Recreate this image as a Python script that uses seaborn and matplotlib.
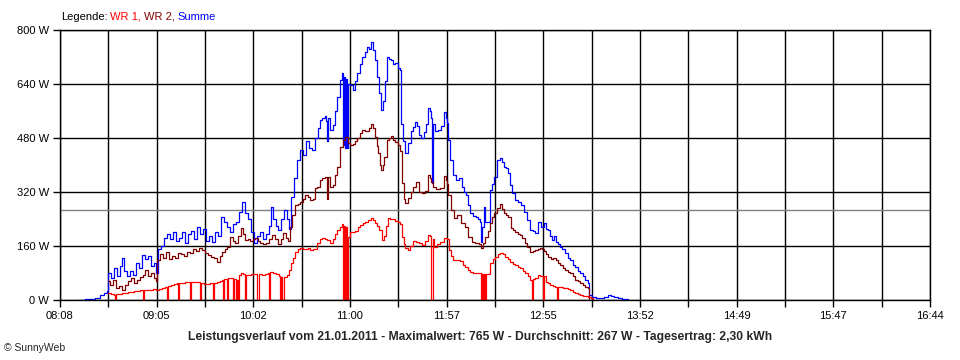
import matplotlib
matplotlib.use('Agg')
import numpy as np
import pandas as pd
import matplotlib.pyplot as plt
import seaborn as sns

# Tagesverlauf 21.01.2011, Zeit in Minuten nach 08:00, Leistung in W
t_summe = [18.7, 22.8, 25.8, 28.8, 31.7, 34.1, 35.9, 36.5, 38.2, 40.0, 41.8, 43.6, 44.8, 46.0, 47.7,
           49.5, 51.3, 53.1, 54.9, 56.6, 58.4, 60.2, 62.0, 63.7, 64.9, 66.1, 67.9, 69.7, 71.5, 73.2,
           75.0, 76.8, 78.6, 80.4, 82.1, 83.9, 85.7, 87.5, 89.2, 91.0, 92.8, 94.6, 96.4, 98.1, 99.9,
           101.7, 103.5, 105.3, 107.0, 108.8, 110.6, 112.4, 114.2, 115.9, 117.7, 119.5, 121.3, 123.1,
           124.8, 126.6, 128.4, 130.2, 131.9, 133.1, 134.3, 136.1, 137.3, 139.1, 140.9, 142.6, 143.8,
           145.0, 146.8, 148.6, 150.3, 152.1, 153.9, 155.7, 157.5, 159.2, 161.0, 162.2, 163.4, 165.2,
           165.8, 166.4, 166.9, 168.1, 169.9, 171.1, 172.3, 174.1, 175.3, 175.9, 176.4, 177.0, 177.6,
           178.2, 178.8, 180.0, 181.8, 183.0, 184.2, 185.9, 187.1, 188.9, 190.1, 191.3, 192.5, 193.6,
           194.8, 196.0, 197.2, 198.4, 199.6, 200.8, 201.9, 203.1, 204.3, 205.5, 206.7, 208.5, 209.7,
           210.2, 211.4, 212.6, 214.4, 216.2, 217.4, 218.5, 219.7, 220.9, 222.1, 223.9, 225.1, 226.3,
           227.5, 228.0, 228.6, 229.2, 230.4, 232.2, 234.0, 235.8, 236.9, 237.5, 238.1, 239.3, 241.1,
           242.9, 244.6, 246.4, 247.6, 248.8, 250.0, 251.2, 253.0, 254.7, 255.9, 257.1, 257.7, 258.3,
           259.5, 260.1, 261.3, 263.0, 264.2, 265.4, 267.2, 269.0, 270.1, 271.3, 272.5, 273.7, 274.9,
           276.1, 277.9, 279.6, 281.4, 283.2, 285.0, 286.8, 288.5, 289.7, 291.5, 293.3, 295.1, 296.3,
           297.4, 298.6, 299.8, 301.0, 302.2, 303.4, 304.6, 305.7, 307.5, 309.3, 310.5, 312.3, 313.4,
           315.2, 316.4, 318.2, 319.4, 321.2, 321.7, 323.5, 325.9, 328.3, 330.6, 333.0, 334.8, 336.6,
           339.0, 341.3, 343.7, 344.9]
p_summe = [0, 2, 3, 7, 15, 22, 28, 80, 65, 95, 70, 100, 124, 85, 70,
           85, 75, 110, 95, 133, 120, 130, 100, 110, 80, 150, 160, 185, 195, 180,
           200, 175, 185, 200, 170, 195, 205, 180, 215, 195, 210, 175, 190, 172, 200,
           190, 246, 230, 216, 200, 225, 230, 260, 290, 257, 240, 200, 169,
           190, 200, 180, 195, 220, 276, 240, 220, 207, 240, 267, 240, 210,
           306, 360, 415, 444, 430, 470, 450, 444, 480, 510, 533, 539, 545,
           530, 470, 540, 504, 518, 560, 602, 652, 672, 460, 660, 450, 655,
           450, 640, 637, 622, 650, 672, 700, 720, 735, 750, 745, 765, 740,
           711, 660, 613, 563, 590, 650, 720, 715, 711, 700, 701, 686, 680,
           520, 470, 435, 465, 500, 513, 527, 515, 490, 480, 498, 520, 569,
           560, 540, 347, 520, 500, 505, 515, 557, 540, 524, 474, 415, 370,
           355, 361, 335, 320, 311, 280, 257, 250, 246, 240, 230, 172, 216,
           276, 230, 230, 326, 345, 364, 415, 421, 410, 395, 390, 376, 340,
           317, 296, 290, 280, 260, 237, 207, 205, 198, 231, 216, 228, 210,
           207, 190, 178, 190, 172, 165, 157, 150, 139, 125, 119, 105, 98,
           85, 80, 70, 59, 50, 15, 9, 6, 5, 8, 15, 12, 8,
           5, 4, 2, 0]

t_wr2 = [36.5, 37.7, 39.4, 41.2, 43.0, 44.8, 46.6, 48.3, 50.1, 51.9, 53.7, 55.5, 57.2, 58.4, 60.2,
         62.0, 63.7, 64.9, 65.5, 67.3, 69.1, 70.9, 72.6, 74.4, 76.2, 78.0, 79.8, 81.5, 83.3, 85.1,
         86.9, 88.7, 90.4, 92.2, 94.0, 95.8, 97.6, 99.3, 101.1, 102.9, 104.1, 105.9, 107.0, 108.8,
         110.6, 111.8, 113.6, 115.3, 116.5, 117.7, 119.5, 120.7, 122.5, 123.7, 125.4, 126.6, 128.4,
         130.2, 131.9, 133.7, 135.5, 137.3, 139.1, 140.3, 142.0, 143.2, 144.4, 145.6, 147.4, 149.2,
         150.3, 152.1, 153.3, 155.1, 156.3, 158.1, 159.2, 160.4, 162.2, 163.4, 165.2, 166.4, 166.9,
         168.1, 169.9, 171.1, 172.3, 174.1, 175.9, 177.0, 178.8, 180.0, 181.8, 183.0, 184.2, 185.9,
         187.1, 188.9, 190.1, 191.3, 192.5, 193.6, 194.8, 196.0, 196.6, 197.8, 198.4, 199.6, 200.2,
         201.9, 203.1, 204.3, 205.5, 206.7, 208.5, 209.7, 210.8, 212.0, 212.6, 214.4, 216.2, 217.4,
         219.1, 220.9, 222.7, 224.5, 226.3, 227.5, 228.0, 229.2, 231.0, 233.4, 235.8, 236.9, 237.5,
         238.1, 239.9, 241.7, 243.5, 245.8, 248.2, 250.0, 252.4, 254.2, 255.3, 256.5, 257.7, 258.9,
         260.1, 261.9, 263.0, 264.2, 265.4, 267.2, 269.0, 270.1, 271.3, 272.5, 273.7, 275.5, 276.7,
         277.9, 279.6, 280.8, 282.0, 283.8, 285.0, 286.8, 288.5, 289.7, 291.5, 292.7, 293.9, 295.1,
         296.3, 297.4, 299.2, 300.4, 302.2, 303.4, 304.6, 306.3, 307.5, 309.3, 310.5, 312.3, 313.4,
         315.2, 316.4, 318.2, 319.4, 321.2, 321.7]
p_wr2 = [55, 45, 60, 35, 40, 30, 45, 55, 65, 50, 60, 68, 75, 89, 70,
         80, 65, 55, 119, 135, 125, 142, 120, 130, 124, 140, 135, 130, 142, 139,
         150, 145, 154, 148, 140, 133, 128, 124, 113, 130, 142, 150, 157, 187,
         175, 169, 190, 213, 195, 178, 180, 175, 180, 184, 175, 169, 165,
         170, 180, 193, 180, 165, 180, 198, 185, 175, 215, 252, 281, 285,
         290, 300, 311, 305, 296, 300, 332, 335, 355, 361, 364, 300, 364,
         335, 340, 370, 395, 454, 475, 483, 465, 459, 462, 470, 480, 495,
         504, 500, 502, 510, 521, 510, 483, 455, 435, 400, 385, 400, 424,
         474, 480, 486, 475, 468, 459, 440, 347, 300, 287, 302, 320, 335,
         350, 320, 317, 322, 370, 360, 350, 335, 330, 333, 367, 355, 345,
         311, 267, 243, 252, 228, 216, 187, 172, 170, 169, 165, 154, 170,
         187, 205, 228, 245, 257, 272, 284, 270, 257, 252, 246, 213, 207,
         200, 195, 193, 184, 170, 157, 142, 145, 148, 152, 154, 150, 145,
         135, 128, 122, 124, 119, 110, 104, 95, 89, 84, 80, 70, 59,
         55, 50, 45, 39, 36, 0]

t_wr1 = [36.5, 38.2, 40.0, 40.6, 41.2, 43.0, 44.8, 46.6, 48.3, 50.1, 51.9, 53.7, 55.5, 57.2, 57.8,
         59.6, 61.4, 63.2, 64.9, 66.7, 68.5, 70.3, 71.5, 72.1, 73.8, 75.6, 77.4, 78.0, 78.6, 80.4,
         82.1, 83.9, 85.1, 85.7, 87.5, 89.2, 91.0, 91.6, 93.4, 95.2, 97.0, 98.7, 99.3, 101.1, 102.9,
         104.1, 104.7, 105.3, 107.0, 107.6, 108.8, 110.6, 111.2, 112.4, 113.0, 113.6, 114.2, 115.3,
         116.5, 117.7, 118.3, 119.5, 121.3, 123.1, 124.8, 126.0, 127.8, 129.6, 131.4, 131.9, 132.6,
         134.3, 136.1, 137.9, 138.5, 139.1, 139.7, 140.9, 142.6, 143.8, 145.0, 146.2, 147.4, 149.2,
         150.3, 152.1, 153.3, 155.1, 156.3, 158.1, 160.4, 162.2, 163.4, 165.2, 166.4, 168.1, 169.9,
         171.1, 172.3, 174.1, 175.3, 175.9, 176.4, 177.0, 177.6, 178.2, 178.8, 180.0, 181.8, 183.0,
         184.8, 185.9, 187.7, 188.9, 190.7, 192.5, 193.6, 194.8, 196.0, 197.2, 199.0, 200.2, 201.4,
         202.5, 203.7, 204.9, 206.7, 208.5, 209.7, 210.8, 212.0, 212.6, 214.4, 215.6, 217.4, 219.1,
         220.9, 222.7, 224.5, 226.3, 227.5, 228.0, 228.6, 229.2, 229.8, 231.6, 233.4, 235.8, 237.5,
         238.7, 239.9, 241.1, 242.9, 245.2, 247.0, 248.2, 250.0, 251.2, 253.0, 254.7, 256.5, 257.7,
         258.3, 258.9, 259.5, 260.1, 260.7, 261.3, 263.0, 264.8, 266.0, 267.8, 269.0, 270.7, 271.9,
         273.7, 274.9, 276.7, 277.9, 279.6, 280.8, 282.6, 283.8, 285.6, 286.8, 287.9, 288.5, 289.7,
         291.5, 292.7, 294.5, 295.1, 296.3, 297.4, 298.6, 300.4, 301.6, 302.8, 303.4, 304.6, 306.3,
         307.5, 309.3, 310.5, 312.3, 313.4, 315.2, 316.4, 318.2, 319.4, 321.2, 323.0, 324.2]
p_wr1 = [20, 17, 15, 0, 17, 18, 20, 22, 24, 25, 27, 28, 30, 0, 30,
         30, 31, 32, 30, 33, 35, 39, 0, 40, 45, 48, 50, 0, 50, 50,
         52, 52, 0, 52, 53, 52, 0, 50, 48, 47, 50, 0, 50, 52, 55,
         59, 0, 62, 0, 65, 64, 0, 62, 0, 60, 0, 75, 80,
         78, 0, 75, 74, 76, 78, 0, 76, 75, 78, 80, 0, 83,
         80, 78, 70, 0, 68, 0, 68, 75, 90, 110, 125, 142, 150,
         154, 152, 150, 155, 148, 152, 169, 180, 184, 180, 178, 169, 180,
         195, 207, 216, 225, 0, 220, 0, 215, 0, 187, 201, 200, 205,
         215, 222, 228, 231, 238, 243, 236, 228, 218, 207, 178, 190, 220,
         243, 240, 240, 235, 231, 225, 187, 165, 154, 148, 160, 175, 172,
         168, 163, 175, 193, 190, 0, 0, 180, 157, 165, 172, 184, 180,
         148, 130, 119, 118, 117, 105, 98, 90, 83, 80, 80, 79, 0,
         78, 0, 78, 0, 77, 78, 110, 120, 128, 135, 139, 135, 128,
         120, 113, 108, 104, 98, 95, 87, 80, 70, 59, 0, 62, 65,
         74, 72, 0, 70, 53, 50, 44, 40, 39, 0, 38, 38, 37,
         36, 33, 30, 25, 21, 18, 15, 13, 12, 9, 5, 0]

x_labels = ['08:08', '09:05', '10:02', '11:00', '11:57', '12:55', '13:52', '14:49', '15:47', '16:44']
y_ticks = [0, 160, 320, 480, 640, 800]
avg_w = 267
caption = ('Leistungsverlauf vom 21.01.2011 - Maximalwert: 765 W - '
           'Durchschnitt: 267 W - Tagesertrag: 2,30 kWh')

colors = {'WR 1': '#ff0000', 'WR 2': '#800000', 'Summe': '#0000ff'}

df = pd.concat([
    pd.DataFrame({'t': t_summe, 'W': p_summe, 'Serie': 'Summe'}),
    pd.DataFrame({'t': t_wr2, 'W': p_wr2, 'Serie': 'WR 2'}),
    pd.DataFrame({'t': t_wr1, 'W': p_wr1, 'Serie': 'WR 1'}),
], ignore_index=True)

sns.set_theme(style='white')
plt.rcParams['font.family'] = ['Liberation Sans', 'DejaVu Sans']

fig = plt.figure(figsize=(9.6, 3.6), dpi=100)
ax = fig.add_axes([0.0625, 0.1667, 0.90625, 0.75])

for name in ['Summe', 'WR 2', 'WR 1']:
    sns.lineplot(data=df[df['Serie'] == name], x='t', y='W', color=colors[name],
                 lw=0.9, drawstyle='steps-post', estimator=None, ax=ax, legend=False)

ax.axhline(avg_w, color='#808080', lw=1, zorder=1.5)

# 08:08 bis 16:44
ax.set_xlim(8, 524)
ax.set_ylim(0, 800)
xt = np.linspace(8, 524, 19)
ax.set_xticks(xt)
ax.set_xticklabels([x_labels[i // 2] if i % 2 == 0 else '' for i in range(len(xt))])
ax.set_yticks(y_ticks)
ax.set_yticklabels([f'{v} W' for v in y_ticks])
ax.set_xlabel('')
ax.set_ylabel('')

ax.set_axisbelow(True)
ax.grid(True, color='black', lw=1)
ax.tick_params(direction='out', length=5, width=1, color='black', labelsize=8,
               pad=3, bottom=True, left=True, labelcolor='black')
for s in ax.spines.values():
    s.set_color('black')
    s.set_linewidth(1)

fig.text(0.5, 0.064, caption, ha='center', va='center', fontsize=8.7, fontweight='bold')
fig.text(0.004, 0.033, '\u00a9 SunnyWeb', ha='left', va='center', fontsize=7.5)

# Legende als farbige Textkette
fig.canvas.draw()
renderer = fig.canvas.get_renderer()
x = 0.0635
for txt, c in [('Legende:', 'black'), ('WR 1,', colors['WR 1']),
               ('WR 2,', colors['WR 2']), ('Summe', colors['Summe'])]:
    t = fig.text(x, 0.953, txt, ha='left', va='center', fontsize=8, color=c)
    bb = t.get_window_extent(renderer)
    x += bb.width / fig.bbox.width + 0.003

fig.savefig('out.png', dpi=100)
